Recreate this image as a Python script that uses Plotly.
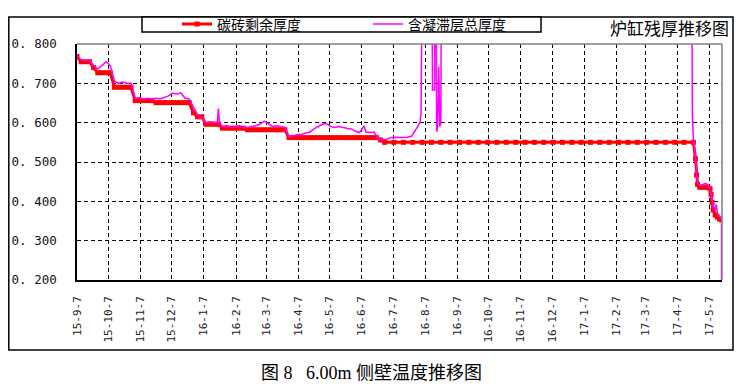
import plotly.graph_objects as go
import pandas as pd

base = pd.Timestamp("2015-09-07")

# 碳砖剩余厚度 (red) — day offsets from 2015-09-07 and values
red_days = list(range(0, 296, 4)) + list(range(296, 594, 9)) + [
    595, 596, 597, 599, 601, 603, 605, 607, 609, 610, 611, 612, 614, 616, 618, 620]
red_vals = [
    0.768,
    0.755, 0.755, 0.755,
    0.740,
    0.727, 0.727, 0.727, 0.727,
    0.690, 0.690, 0.690, 0.690, 0.690,
    0.656, 0.656, 0.656, 0.656, 0.656,
    0.651, 0.651, 0.651, 0.651, 0.651, 0.651, 0.651, 0.651, 0.651,
    0.625,
    0.615, 0.615,
    0.596, 0.596, 0.596, 0.596,
    0.586, 0.586, 0.586, 0.586, 0.586, 0.586,
    0.582, 0.582, 0.582, 0.582, 0.582, 0.582, 0.582, 0.582, 0.582, 0.582,
    0.562, 0.562, 0.562, 0.562, 0.562, 0.562, 0.562, 0.562, 0.562, 0.562, 0.562,
    0.562, 0.562, 0.562, 0.562, 0.562, 0.562, 0.562, 0.562, 0.562, 0.562, 0.562,
    0.556,
] + [0.550] * 34 + [
    0.508, 0.467, 0.443, 0.436, 0.436, 0.436, 0.436, 0.436, 0.432, 0.418, 0.397,
    0.378, 0.365, 0.360, 0.355, 0.353]

# 含凝滞层总厚度 (magenta)
mag_days = [
    0, 4, 8, 12, 16, 20, 24, 28, 32, 36, 40, 44, 48, 52, 56, 60, 64, 68, 72, 76,
    80, 84, 88, 92, 96, 100, 104, 108, 112, 116, 120, 124, 128, 132, 135, 136, 137,
    140, 144, 148, 152, 156, 160, 164, 168, 172, 176, 180, 184, 188, 192, 196, 200,
    204, 208, 212, 216, 220, 224, 228, 232, 236, 240, 244, 248, 252, 256, 260, 264,
    268, 272, 276, 278, 282, 286, 290, 294, 298, 302, 306, 310, 314, 318, 322, 326,
    330, 331, 333, 341, 342, 344, 345, 346, 347, 348, 349, 350, 351,
    591, 592, 593, 595, 596, 597, 599, 601, 603, 605, 607, 609, 610, 611, 612, 613,
    615, 616, 618, 619, 620, 620]
mag_vals = [
    0.770, 0.760, 0.758, 0.760, 0.745, 0.737, 0.745, 0.755, 0.745, 0.706, 0.700,
    0.703, 0.700, 0.700, 0.662, 0.664, 0.660, 0.662, 0.660, 0.662,
    0.660, 0.664, 0.668, 0.675, 0.673, 0.676, 0.662, 0.660, 0.640, 0.620, 0.612,
    0.600, 0.602, 0.600, 0.600, 0.636, 0.600,
    0.590, 0.592, 0.588, 0.590, 0.592, 0.588, 0.588, 0.590, 0.592, 0.596, 0.604,
    0.598, 0.590, 0.592, 0.590, 0.588,
    0.565, 0.566, 0.570, 0.570, 0.574, 0.576, 0.584, 0.590, 0.596, 0.598, 0.590,
    0.588, 0.590, 0.588, 0.585, 0.584,
    0.578, 0.575, 0.592, 0.576, 0.575, 0.576, 0.556, 0.557, 0.558, 0.562, 0.563,
    0.562, 0.563, 0.563, 0.566, 0.584,
    0.600, 0.625, 1.300, 1.300, 0.683, 0.683, 1.300, 0.577, 0.590, 0.742, 0.590,
    0.600, 1.300,
    1.300, 0.617, 0.555, 0.520, 0.470, 0.445, 0.442, 0.440, 0.444, 0.445, 0.442,
    0.432, 0.420, 0.400, 0.388, 0.376,
    0.392, 0.370, 0.362, 0.358, 0.356, 0.200]

tick_dates = ["2015-09-07", "2015-10-07", "2015-11-07", "2015-12-07", "2016-01-07",
              "2016-02-07", "2016-03-07", "2016-04-07", "2016-05-07", "2016-06-07",
              "2016-07-07", "2016-08-07", "2016-09-07", "2016-10-07", "2016-11-07",
              "2016-12-07", "2017-01-07", "2017-02-07", "2017-03-07", "2017-04-07",
              "2017-05-07"]
tick_text = ["15-9-7", "15-10-7", "15-11-7", "15-12-7", "16-1-7", "16-2-7", "16-3-7",
             "16-4-7", "16-5-7", "16-6-7", "16-7-7", "16-8-7", "16-9-7", "16-10-7",
             "16-11-7", "16-12-7", "17-1-7", "17-2-7", "17-3-7", "17-4-7", "17-5-7"]
y_ticks = [0.2, 0.3, 0.4, 0.5, 0.6, 0.7, 0.8]
y_text = ["0. 200", "0. 300", "0. 400", "0. 500", "0. 600", "0. 700", "0. 800"]

red_x = [base + pd.Timedelta(days=d) for d in red_days]
mag_x = [base + pd.Timedelta(days=d) for d in mag_days]

cjk = "Noto Sans CJK SC, sans-serif"
mono = "DejaVu Sans Mono, monospace"

fig = go.Figure()
fig.add_trace(go.Scatter(
    x=red_x, y=red_vals, mode="lines+markers", name="碳砖剩余厚度",
    line=dict(color="#FF0000", width=3),
    marker=dict(symbol="square", size=5, color="#FF0000"),
))
fig.add_trace(go.Scatter(
    x=mag_x, y=mag_vals, mode="lines", name="含凝滞层总厚度",
    line=dict(color="#FF00FF", width=1.5),
))

# the page body adds an 8px offset; figure pixel = page pixel - 8
OFF = 8
W, H = 735, 379
L, R, T, B = 77 - OFF, 21, 44 - OFF, 107
pw, ph = W - L - R, H - T - B


def px(xp):
    return (xp - OFF - L) / pw


def py(yp):
    return (H - B - (yp - OFF)) / ph


shapes = [
    # outer frame
    dict(type="rect", xref="paper", yref="paper", x0=px(8.8), x1=px(733), y0=py(350), y1=py(17),
         line=dict(color="black", width=1.5), layer="below"),
    # legend box
    dict(type="rect", xref="paper", yref="paper", x0=px(142), x1=px(541), y0=py(32), y1=py(17),
         line=dict(color="black", width=1.5), fillcolor="white"),
    # gray top/right plot frame
    dict(type="line", xref="paper", yref="paper", x0=0, x1=1, y0=1, y1=1,
         line=dict(color="#808080", width=1.5)),
    dict(type="line", xref="paper", yref="paper", x0=1, x1=1, y0=0, y1=1,
         line=dict(color="#808080", width=1.5)),
]

fig.update_layout(
    width=W, height=H,
    margin=dict(l=L, r=R, t=T, b=B, autoexpand=False),
    paper_bgcolor="white", plot_bgcolor="white",
    shapes=shapes,
    showlegend=True,
    legend=dict(orientation="h", x=px(177), y=py(24.5), xanchor="left", yanchor="middle",
                font=dict(family=cjk, size=14, color="black"),
                bgcolor="rgba(0,0,0,0)", borderwidth=0, entrywidth=146,
                itemwidth=30, tracegroupgap=0),
    xaxis=dict(type="date", range=[base, base + pd.Timedelta(days=620.5)],
               tickvals=tick_dates, ticktext=tick_text, tickangle=-90,
               tickfont=dict(family=mono, size=11, color="#222"),
               showgrid=True, gridcolor="black", griddash="4px,3px", gridwidth=1,
               showline=True, linecolor="black", linewidth=1.5,
               ticks="", zeroline=False, ticklabelstandoff=10),
    yaxis=dict(range=[0.2, 0.8], tickvals=y_ticks, ticktext=y_text,
               tickfont=dict(family=mono, size=12.5, color="#111"),
               showgrid=True, gridcolor="black", griddash="4px,3px", gridwidth=1,
               showline=True, linecolor="black", linewidth=1.5,
               ticks="", zeroline=False, ticklabelstandoff=16),
    annotations=[
        dict(text="炉缸残厚推移图", xref="paper", yref="paper", x=px(731), y=py(27.5),
             xanchor="right", yanchor="middle", showarrow=False,
             font=dict(family=cjk, size=17, color="black")),
        dict(text="图 8&nbsp;&nbsp;&nbsp;6.00m 侧壁温度推移图", xref="paper", yref="paper",
             x=px(371), y=py(373), xanchor="center", yanchor="middle", showarrow=False,
             font=dict(family="Liberation Serif, Noto Sans CJK SC, serif", size=18,
                       color="black")),
    ],
)

fig.write_html("out.html")
